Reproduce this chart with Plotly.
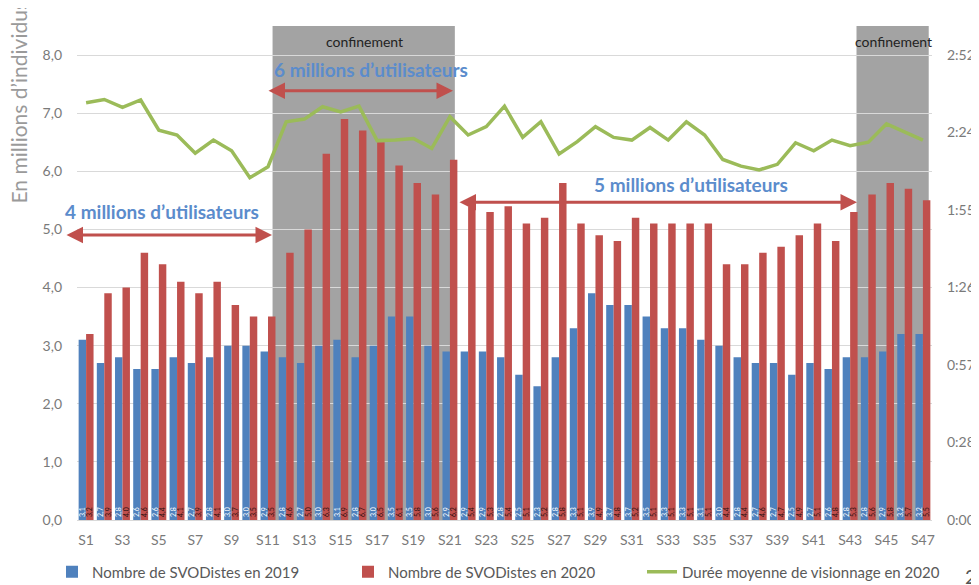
import plotly.graph_objects as go

weeks = [f"S{i}" for i in range(1, 48)]

svod_2019 = [3.1, 2.7, 2.8, 2.6, 2.6, 2.8, 2.7, 2.8, 3.0, 3.0,
             2.9, 2.8, 2.7, 3.0, 3.1, 2.8, 3.0, 3.5, 3.5, 3.0,
             2.9, 2.9, 2.9, 2.8, 2.5, 2.3, 2.8, 3.3, 3.9, 3.7,
             3.7, 3.5, 3.3, 3.3, 3.1, 3.0, 2.8, 2.7, 2.7, 2.5,
             2.7, 2.6, 2.8, 2.8, 2.9, 3.2, 3.2]

svod_2020 = [3.2, 3.9, 4.0, 4.6, 4.4, 4.1, 3.9, 4.1, 3.7, 3.5,
             3.5, 4.6, 5.0, 6.3, 6.9, 6.7, 6.5, 6.1, 5.8, 5.6,
             6.2, 5.4, 5.3, 5.4, 5.1, 5.2, 5.8, 5.1, 4.9, 4.8,
             5.2, 5.1, 5.1, 5.1, 5.1, 4.4, 4.4, 4.6, 4.7, 4.9,
             5.1, 4.8, 5.3, 5.6, 5.8, 5.7, 5.5]

# average viewing duration 2020, in minutes
duree_2020 = [155.1, 156.3, 153.4, 156.1, 144.9, 143.1, 136.3, 141.2, 137.2, 127.2,
              131.3, 148.0, 149.0, 153.6, 151.7, 153.8, 141.0, 141.2, 141.8, 138.1,
              149.9, 143.1, 146.2, 153.8, 142.2, 148.0, 136.0, 140.6, 146.2, 142.2,
              141.2, 145.9, 141.2, 148.0, 143.1, 134.0, 131.5, 130.1, 132.2, 140.2,
              137.2, 141.2, 139.1, 140.4, 147.2, 144.3, 141.2]

right_tickvals = [0, 28.8, 57.6, 86.4, 115.2, 144.0, 172.8]
right_ticktext = ["0:00", "0:28", "0:57", "1:26", "1:55", "2:24", "2:52"]

BLUE = "#4f81bd"
RED = "#c0504d"
GREEN = "#9bbb59"
GRAY_TXT = "#7a7a7a"
FONT = "Lato, 'Open Sans', sans-serif"

def fr(v):
    return f"{v:.1f}".replace(".", ",")

# page offset introduced by the default body margin of the html page
OFF = 8
W, H = 979 - OFF, 585 - OFF
# plot area geometry in page pixels
L, R, T, B = 77, 932, 26, 520
def px(x):
    return (x - L) / (R - L)
def py(y):
    return (B - y) / (B - T)

fig = go.Figure()
fig.add_trace(go.Bar(
    x=weeks, y=svod_2019, name="Nombre de SVODistes en 2019",
    marker=dict(color=BLUE, line=dict(width=0)),
    text=[fr(v) for v in svod_2019], textposition="inside",
    insidetextanchor="start", textangle=-90,
    textfont=dict(size=7, color="white", family=FONT),
    legend="legend",
))
fig.add_trace(go.Bar(
    x=weeks, y=svod_2020, name="Nombre de SVODistes en 2020",
    marker=dict(color=RED, line=dict(width=0)),
    text=[fr(v) for v in svod_2020], textposition="inside",
    insidetextanchor="start", textangle=-90,
    textfont=dict(size=7, color="#2a0f0f", family=FONT),
    legend="legend2",
))
fig.add_trace(go.Scatter(
    x=weeks, y=duree_2020, name="Durée moyenne de visionnage en 2020",
    mode="lines", line=dict(color=GREEN, width=3.5), yaxis="y2",
    legend="legend3",
))

shapes = []
for x0, x1 in [(10.25, 20.27), (42.35, 46.32)]:
    shapes.append(dict(type="rect", xref="x", yref="paper", x0=x0, x1=x1,
                       y0=0, y1=1, fillcolor="#a3a3a3", line=dict(width=0),
                       layer="below"))

annotations = []
# confinement labels
for cx in [364, 893]:
    annotations.append(dict(xref="paper", yref="paper", x=px(cx), y=py(41),
                            xanchor="center", yanchor="middle",
                            text="confinement", showarrow=False,
                            font=dict(size=14, color="#222222", family=FONT)))

# user labels
for txt, cx, cy in [("4 millions d’utilisateurs", 162, 211),
                    ("6 millions d’utilisateurs", 371, 70),
                    ("5 millions d’utilisateurs", 691, 184)]:
    annotations.append(dict(xref="paper", yref="paper", x=px(cx), y=py(cy),
                            text=f"<b>{txt}</b>", showarrow=False,
                            xanchor="center", yanchor="middle",
                            font=dict(size=19, color="#5b8ccc", family=FONT)))

# double arrows
for x0, x1, yy in [(65, 272, 235), (267, 453, 90.7), (458, 857, 202.3)]:
    annotations.append(dict(xref="paper", yref="paper", x=px(x1), y=py(yy),
                            ax=-(x1 - x0), ay=0, axref="pixel", ayref="pixel",
                            text="", showarrow=True, arrowside="end+start",
                            arrowhead=2, arrowsize=1.1, arrowwidth=3,
                            arrowcolor=RED, standoff=0, startstandoff=0))

# y axis title (partly cut at top like the reference)
annotations.append(dict(xref="paper", yref="paper", x=px(18), y=py(206),
                        text="En millions d’individus", textangle=-90,
                        showarrow=False, xanchor="center", yanchor="bottom",
                        font=dict(size=21, color="#9a9a9a", family=FONT)))
annotations.append(dict(xref="paper", yref="paper", x=px(971), y=py(576),
                        text="2", showarrow=False, xanchor="center",
                        yanchor="middle",
                        font=dict(size=20, color="#555555", family=FONT)))

legend_common = dict(orientation="h", yanchor="middle", y=py(572),
                     xanchor="left",
                     font=dict(size=15, color="#595959", family=FONT),
                     bgcolor="rgba(0,0,0,0)")

fig.update_layout(
    width=W, height=H,
    margin=dict(l=L - OFF, r=(979 - R), t=T - OFF, b=(585 - B),
                autoexpand=False),
    paper_bgcolor="white", plot_bgcolor="white",
    separators=", ",
    barmode="group", bargap=0.18, bargroupgap=0,
    uniformtext=dict(minsize=7, mode="show"),
    font=dict(family=FONT, color=GRAY_TXT, size=14),
    xaxis=dict(
        type="category", range=[-0.5, 46.5],
        tickmode="array", tickvals=weeks[::2], ticktext=weeks[::2],
        showgrid=False, showline=True, linecolor="#d9d9d9", linewidth=1,
        ticks="", ticklabelstandoff=7,
        tickfont=dict(size=14, color=GRAY_TXT),
    ),
    yaxis=dict(
        range=[0, 8.5], dtick=1, tickformat=".1f",
        showgrid=True, gridcolor="#d9d9d9", gridwidth=1,
        zeroline=False, showline=False, ticks="",
        ticklabelstandoff=14,
        tickfont=dict(size=14, color=GRAY_TXT),
    ),
    yaxis2=dict(
        overlaying="y", side="right", range=[0, 183.6],
        tickmode="array", tickvals=right_tickvals, ticktext=right_ticktext,
        showgrid=False, zeroline=False, showline=False, ticks="",
        ticklabelstandoff=14,
        tickfont=dict(size=14, color=GRAY_TXT),
    ),
    legend=dict(x=px(52), **legend_common),
    legend2=dict(x=px(348), **legend_common),
    legend3=dict(x=px(642), **legend_common),
    shapes=shapes,
    annotations=annotations,
    showlegend=True,
)

fig.write_html("out.html")
